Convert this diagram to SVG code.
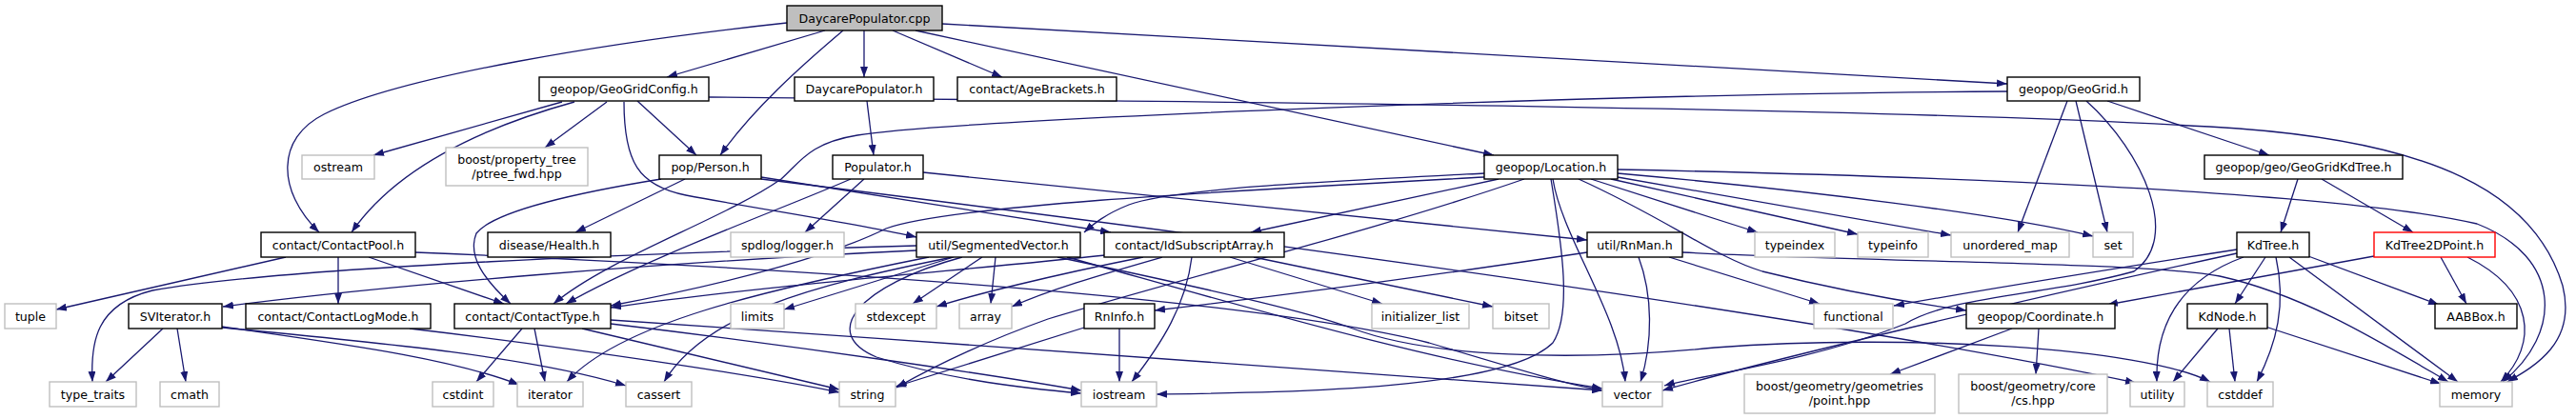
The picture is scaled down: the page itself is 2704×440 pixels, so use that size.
<svg xmlns="http://www.w3.org/2000/svg" width="2704" height="440" viewBox="0 0 2704 440">
<defs>
<marker id="a" markerUnits="userSpaceOnUse" markerWidth="11" markerHeight="8" refX="11" refY="4" orient="auto"><path d="M0,0 L11,4 L0,8 z" fill="#191970"/></marker>
<style>
.n rect{fill:#fff;stroke:#000;stroke-width:1.4}
.x rect{fill:#fff;stroke:#bfbfbf;stroke-width:1.4}
.root rect{fill:#bfbfbf}
.red rect{stroke:#ff0000}
text{font-family:"DejaVu Sans","Liberation Sans",sans-serif;font-size:12.6px;text-anchor:middle;fill:#000}
#edges path{fill:none;stroke:#191970;stroke-width:1.3;marker-end:url(#a)}
</style>
</defs>
<rect width="2704" height="440" fill="#fff"/>
<g id="edges">
<path d="M826,24 C640,44 420,80 340,120 C290,145 290,200 335,244"/>
<path d="M866,32 L700,81"/>
<path d="M885,32 C840,70 790,115 756,163"/>
<path d="M907,32 L907,81"/>
<path d="M937,32 L1052,81"/>
<path d="M961,32 L1568,163"/>
<path d="M989,25 L2107,88"/>
<path d="M590,107 L392,163"/>
<path d="M637,107 L572,155"/>
<path d="M603,107 C520,130 420,170 369,244"/>
<path d="M669,106 L731,163"/>
<path d="M655,107 C655,170 670,195 720,205 C800,220 900,235 962,249"/>
<path d="M744,102 C1200,106 2000,112 2350,135 C2550,150 2660,200 2690,300 C2705,360 2660,385 2632,401"/>
<path d="M910,106 L917,163"/>
<path d="M2107,96 C1700,98 1000,125 900,142 C850,150 840,170 820,188 C760,230 640,270 581,319"/>
<path d="M2170,106 L2118,244"/>
<path d="M2179,106 L2212,244"/>
<path d="M2190,106 C2250,160 2290,250 2240,285 C2150,310 2050,310 2000,340 C1900,380 1780,395 1747,405"/>
<path d="M2212,106 L2382,163"/>
<path d="M1558,182 C1400,190 1230,198 1185,215 C1160,225 1148,235 1138,244"/>
<path d="M1573,188 L1313,244"/>
<path d="M1558,186 C1300,200 1000,215 930,240 C880,265 780,295 641,321"/>
<path d="M1600,188 C1450,240 1250,290 1100,335 C1030,360 980,385 941,407"/>
<path d="M1670,188 L1845,244"/>
<path d="M1691,188 L1950,246"/>
<path d="M1698,186 L2048,247"/>
<path d="M1698,182 C1900,200 2100,225 2197,248"/>
<path d="M1698,178 C2000,184 2450,200 2600,235 C2690,270 2690,350 2627,401"/>
<path d="M1630,188 C1640,250 1700,330 1706,401"/>
<path d="M1628,188 C1640,260 1650,330 1630,360 C1580,410 1350,412 1214,414"/>
<path d="M1657,188 C1750,230 1800,270 1850,285 C1950,310 2020,320 2064,326"/>
<path d="M907,188 L845,244"/>
<path d="M893,188 C820,220 680,270 594,319"/>
<path d="M969,181 L1666,252"/>
<path d="M694,188 C620,200 520,220 500,245 C490,270 510,295 536,319"/>
<path d="M719,188 L604,244"/>
<path d="M799,186 L1166,244"/>
<path d="M799,188 C1300,250 1900,330 2242,402"/>
<path d="M300,270 L59,325"/>
<path d="M355,270 L355,319"/>
<path d="M387,270 L529,319"/>
<path d="M436,265 C800,280 1300,310 1500,360 C1600,390 1650,405 1682,410"/>
<path d="M962,263 C700,275 400,300 234,322"/>
<path d="M962,258 C700,265 300,280 160,305 C100,320 95,360 97,401"/>
<path d="M975,270 C800,305 650,340 595,401"/>
<path d="M1000,270 C850,300 740,330 697,401"/>
<path d="M1001,270 L823,325"/>
<path d="M1031,270 L958,319"/>
<path d="M1045,270 L1040,319"/>
<path d="M1010,270 C900,300 860,350 920,375 C1000,400 1080,408 1135,413"/>
<path d="M1120,270 C1300,320 1500,380 1682,408"/>
<path d="M1110,270 C1300,310 1380,330 1420,345 C1500,375 1650,380 1800,365 C2000,350 2250,365 2320,401"/>
<path d="M171,345 L111,401"/>
<path d="M186,345 L195,401"/>
<path d="M233,343 C350,360 470,375 545,404"/>
<path d="M233,344 C400,360 560,375 657,405"/>
<path d="M430,345 C600,365 800,395 881,412"/>
<path d="M548,345 L500,401"/>
<path d="M561,345 L572,401"/>
<path d="M611,345 L881,409"/>
<path d="M641,340 C850,365 1050,395 1135,410"/>
<path d="M641,336 C1000,360 1400,390 1682,410"/>
<path d="M1160,268 C1000,285 800,300 641,323"/>
<path d="M1200,270 C1100,290 1020,310 983,322"/>
<path d="M1220,270 C1150,290 1100,305 1062,322"/>
<path d="M1251,270 C1245,320 1220,360 1188,401"/>
<path d="M1291,270 L1451,319"/>
<path d="M1316,270 L1567,322"/>
<path d="M1666,265 C1500,290 1350,310 1212,326"/>
<path d="M1720,270 C1735,310 1735,360 1722,401"/>
<path d="M1752,270 L1910,319"/>
<path d="M1766,265 C1950,275 2250,275 2330,290 C2420,310 2500,360 2570,401"/>
<path d="M1175,345 L1175,401"/>
<path d="M1138,344 L940,406"/>
<path d="M2412,188 L2394,244"/>
<path d="M2437,188 L2533,244"/>
<path d="M2378,270 L2346,319"/>
<path d="M2355,270 C2300,290 2262,330 2264,401"/>
<path d="M2389,270 C2400,320 2390,360 2369,401"/>
<path d="M2403,270 L2580,401"/>
<path d="M2423,269 L2560,320"/>
<path d="M2348,262 C2200,285 2050,310 1988,321"/>
<path d="M2348,266 C2100,320 1850,380 1745,410"/>
<path d="M2492,269 L2212,320"/>
<path d="M2562,270 L2589,319"/>
<path d="M2590,270 C2660,305 2665,360 2625,401"/>
<path d="M2328,345 L2281,401"/>
<path d="M2340,345 L2346,401"/>
<path d="M2378,343 L2562,403"/>
<path d="M2112,345 L1984,393"/>
<path d="M2140,345 L2137,393"/>
</g>
<g id="node-root" class="n root"><rect x="826" y="6" width="163" height="26"/><text x="907.5" y="23.5">DaycarePopulator.cpp</text></g>
<g id="node-GeoGridConfig" class="n"><rect x="566" y="81" width="178" height="25"/><text x="655" y="98">geopop/GeoGridConfig.h</text></g>
<g id="node-DaycarePopulatorH" class="n"><rect x="834" y="81" width="146" height="25"/><text x="907" y="98">DaycarePopulator.h</text></g>
<g id="node-AgeBrackets" class="n"><rect x="1005" y="81" width="167" height="25"/><text x="1088.5" y="98">contact/AgeBrackets.h</text></g>
<g id="node-GeoGrid" class="n"><rect x="2107" y="81" width="139" height="25"/><text x="2176.5" y="98">geopop/GeoGrid.h</text></g>
<g id="node-ostream" class="x"><rect x="317" y="163" width="76" height="25"/><text x="355" y="180">ostream</text></g>
<g id="node-ptree" class="x"><rect x="468" y="155" width="149" height="40"/><text x="542.5" y="171.5">boost/property_tree</text><text x="542.5" y="186.5">/ptree_fwd.hpp</text></g>
<g id="node-Person" class="n"><rect x="692" y="163" width="107" height="25"/><text x="745.5" y="180">pop/Person.h</text></g>
<g id="node-Populator" class="n"><rect x="874" y="163" width="95" height="25"/><text x="921.5" y="180">Populator.h</text></g>
<g id="node-Location" class="n"><rect x="1558" y="163" width="140" height="25"/><text x="1628" y="180">geopop/Location.h</text></g>
<g id="node-GeoGridKdTree" class="n"><rect x="2314" y="163" width="208" height="25"/><text x="2418" y="180">geopop/geo/GeoGridKdTree.h</text></g>
<g id="node-ContactPool" class="n"><rect x="274" y="244" width="162" height="26"/><text x="355" y="261.5">contact/ContactPool.h</text></g>
<g id="node-Health" class="n"><rect x="512" y="244" width="129" height="26"/><text x="576.5" y="261.5">disease/Health.h</text></g>
<g id="node-spdlog" class="x"><rect x="767" y="244" width="119" height="26"/><text x="826.5" y="261.5">spdlog/logger.h</text></g>
<g id="node-SegmentedVector" class="n"><rect x="962" y="244" width="172" height="26"/><text x="1048" y="261.5">util/SegmentedVector.h</text></g>
<g id="node-IdSubscriptArray" class="n"><rect x="1159" y="244" width="189" height="26"/><text x="1253.5" y="261.5">contact/IdSubscriptArray.h</text></g>
<g id="node-RnMan" class="n"><rect x="1666" y="244" width="100" height="26"/><text x="1716" y="261.5">util/RnMan.h</text></g>
<g id="node-typeindex" class="x"><rect x="1842" y="244" width="84" height="26"/><text x="1884" y="261.5">typeindex</text></g>
<g id="node-typeinfo" class="x"><rect x="1950" y="244" width="74" height="26"/><text x="1987" y="261.5">typeinfo</text></g>
<g id="node-unordered_map" class="x"><rect x="2048" y="244" width="124" height="26"/><text x="2110" y="261.5">unordered_map</text></g>
<g id="node-set" class="x"><rect x="2197" y="244" width="42" height="26"/><text x="2218" y="261.5">set</text></g>
<g id="node-KdTree" class="n"><rect x="2348" y="244" width="76" height="26"/><text x="2386" y="261.5">KdTree.h</text></g>
<g id="node-KdTree2DPoint" class="n red"><rect x="2492" y="244" width="127" height="26"/><text x="2555.5" y="261.5">KdTree2DPoint.h</text></g>
<g id="node-tuple" class="x"><rect x="5" y="319" width="54" height="26"/><text x="32" y="336.5">tuple</text></g>
<g id="node-SVIterator" class="n"><rect x="135" y="319" width="98" height="26"/><text x="184" y="336.5">SVIterator.h</text></g>
<g id="node-ContactLogMode" class="n"><rect x="258" y="319" width="194" height="26"/><text x="355" y="336.5">contact/ContactLogMode.h</text></g>
<g id="node-ContactType" class="n"><rect x="477" y="319" width="164" height="26"/><text x="559" y="336.5">contact/ContactType.h</text></g>
<g id="node-limits" class="x"><rect x="767" y="319" width="56" height="26"/><text x="795" y="336.5">limits</text></g>
<g id="node-stdexcept" class="x"><rect x="898" y="319" width="85" height="26"/><text x="940.5" y="336.5">stdexcept</text></g>
<g id="node-array" class="x"><rect x="1007" y="319" width="55" height="26"/><text x="1034.5" y="336.5">array</text></g>
<g id="node-RnInfo" class="n"><rect x="1138" y="319" width="74" height="26"/><text x="1175" y="336.5">RnInfo.h</text></g>
<g id="node-initializer_list" class="x"><rect x="1440" y="319" width="102" height="26"/><text x="1491" y="336.5">initializer_list</text></g>
<g id="node-bitset" class="x"><rect x="1567" y="319" width="59" height="26"/><text x="1596.5" y="336.5">bitset</text></g>
<g id="node-functional" class="x"><rect x="1904" y="319" width="83" height="26"/><text x="1945.5" y="336.5">functional</text></g>
<g id="node-Coordinate" class="n"><rect x="2064" y="319" width="156" height="26"/><text x="2142" y="336.5">geopop/Coordinate.h</text></g>
<g id="node-KdNode" class="n"><rect x="2296" y="319" width="84" height="26"/><text x="2338" y="336.5">KdNode.h</text></g>
<g id="node-AABBox" class="n"><rect x="2556" y="319" width="86" height="26"/><text x="2599" y="336.5">AABBox.h</text></g>
<g id="node-type_traits" class="x"><rect x="52" y="401" width="91" height="26"/><text x="97.5" y="418.5">type_traits</text></g>
<g id="node-cmath" class="x"><rect x="168" y="401" width="62" height="26"/><text x="199" y="418.5">cmath</text></g>
<g id="node-cstdint" class="x"><rect x="454" y="401" width="64" height="26"/><text x="486" y="418.5">cstdint</text></g>
<g id="node-iterator" class="x"><rect x="543" y="401" width="69" height="26"/><text x="577.5" y="418.5">iterator</text></g>
<g id="node-cassert" class="x"><rect x="657" y="401" width="69" height="26"/><text x="691.5" y="418.5">cassert</text></g>
<g id="node-string" class="x"><rect x="881" y="401" width="59" height="26"/><text x="910.5" y="418.5">string</text></g>
<g id="node-iostream" class="x"><rect x="1135" y="401" width="79" height="26"/><text x="1174.5" y="418.5">iostream</text></g>
<g id="node-vector" class="x"><rect x="1682" y="401" width="63" height="26"/><text x="1713.5" y="418.5">vector</text></g>
<g id="node-point" class="x"><rect x="1831" y="393" width="200" height="41"/><text x="1931" y="410">boost/geometry/geometries</text><text x="1931" y="424.5">/point.hpp</text></g>
<g id="node-cs" class="x"><rect x="2056" y="393" width="156" height="41"/><text x="2134" y="410">boost/geometry/core</text><text x="2134" y="424.5">/cs.hpp</text></g>
<g id="node-utility" class="x"><rect x="2236" y="401" width="57" height="26"/><text x="2264.5" y="418.5">utility</text></g>
<g id="node-cstddef" class="x"><rect x="2317" y="401" width="69" height="26"/><text x="2351.5" y="418.5">cstddef</text></g>
<g id="node-memory" class="x"><rect x="2561" y="401" width="76" height="26"/><text x="2599" y="418.5">memory</text></g>
</svg>
